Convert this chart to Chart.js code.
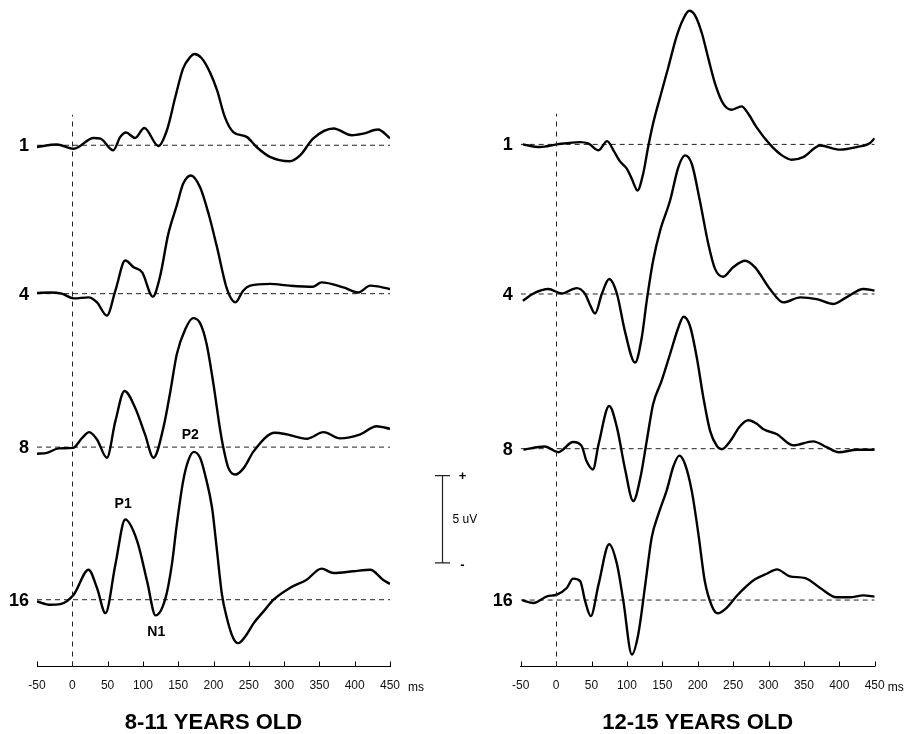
<!DOCTYPE html>
<html><head><meta charset="utf-8">
<script src="https://cdn.jsdelivr.net/npm/chart.js@4.4.0/dist/chart.umd.min.js"></script>
<style>
html,body{margin:0;padding:0;background:#fff;width:907px;height:734px;overflow:hidden}
#wrapL{position:absolute;left:0;top:0;width:486px;height:734px}
#wrapR{position:absolute;left:486px;top:0;width:421px;height:734px}
</style></head><body>
<div id="wrapL"><canvas id="cL"></canvas></div>
<div id="wrapR"><canvas id="cR"></canvas></div>
<script>
// ---- categories / labels ----
const ROWS = ['1', '4', '8', '16'];
const TITLES = ['8-11 YEARS OLD', '12-15 YEARS OLD'];
const X_MIN = -50, X_MAX = 450, X_STEP = 50;

// ---- 8-11 years old (time ms / amplitude uV) ----
const L1_ms = [-50,-22,2,30,40,58,68,76,89,102,122,134,146,157,167,173,183,195,205,216,228,247,261,280,308,323,341,370,396,412,433,450];
const L1_uv = [-0.1,0.04,-0.2,0.42,0.38,-0.29,0.48,0.73,0.42,0.99,-0.04,0.86,2.78,4.41,5.06,5.23,5.0,4.18,3.16,1.63,0.76,0.48,-0.1,-0.67,-0.92,-0.57,0.38,0.96,0.57,0.67,0.9,0.4];
const L4_ms = [-50,-31,-15,2,23,35,49,61,75,87,99,114,124,136,148,157,168,181,193,205,219,231,242,252,280,308,341,353,384,405,422,450];
const L4_uv = [0.04,0.07,0,-0.27,-0.21,-0.5,-1.26,0.17,1.9,1.51,1.22,-0.17,0.94,3.43,5.06,6.3,6.78,6.1,4.58,2.66,0.27,-0.5,0.17,0.46,0.56,0.46,0.4,0.65,0.36,0.07,0.46,0.27];
const L8_ms = [-50,-36,-19,1,14,24,35,49,61,74,89,103,115,129,139,148,160,171,181,190,200,209,214,221,231,243,257,287,304,332,356,379,408,431,450];
const L8_uv = [-0.38,-0.33,-0.07,-0.04,0.53,0.86,0.44,-0.61,1.49,3.22,2.26,0.73,-0.61,1.11,3.22,5.33,6.76,7.4,7.11,5.96,3.6,1.1,-0.04,-1.19,-1.57,-1.19,-0.23,0.82,0.73,0.48,0.86,0.5,0.73,1.2,1.05];
const L16_ms = [-50,-31,-17,2,23,35,47,61,75,92,106,118,132,141,148,157,164,172,181,188,198,205,212,219,228,235,245,257,271,285,308,332,353,370,398,422,440,450];
const L16_uv = [-0.1,-0.29,-0.25,0.29,1.72,0.67,-0.77,2.01,4.6,3.35,1.05,-0.9,0.09,2.01,4.31,6.8,7.95,8.48,8.14,7.18,5.26,2.78,0.29,-1.06,-2.21,-2.49,-2.11,-1.34,-0.67,0,0.67,1.15,1.78,1.53,1.63,1.72,1.15,0.9];

// ---- 12-15 years old ----
const R1_ms = [-47,-23,1,34,46,60,72,81,90,100,107,115,123,130,137,147,158.6,170,180,188,196,206,215,224.5,236,248,262,271.5,283,302,319,333,349,373,401,425,443,450];
const R1_uv = [0,-0.15,0,0.13,0.04,-0.34,0.19,-0.34,-0.96,-1.4,-1.98,-2.64,-1.68,-0.15,1.2,2.72,4.44,6.17,7.22,7.66,7.41,6.36,4.93,3.49,2.34,1.99,2.18,1.76,0.99,0,-0.63,-0.88,-0.73,-0.06,-0.3,-0.15,0.07,0.35];
const R4_ms = [-47,-32,-11,8,29,41,48,55,64.5,75,86,97,111.5,121,128,137,147,161,172.7,182,191.6,203,215,224.5,236,250,267,281,302,321,345,368,392,410,434,450];
const R4_uv = [-0.39,0.03,0.29,0.03,0.34,0,-0.63,-1.12,0,0.86,0,-2.1,-3.93,-2.49,-0.39,1.91,3.64,5.36,7.28,7.95,7.47,5.36,2.87,1.44,0.99,1.53,1.91,1.53,0.29,-0.48,-0.19,-0.29,-0.57,-0.19,0.29,0.2];
const R8_ms = [-46,-16,3,24,36,43,52,60,75,86,97,109,119,128,137,149,161,172.7,180,189,198.7,208,217.5,227,234,246,260,271.5,283,293,312,335,363,382,399,425,450];
const R8_uv = [-0.06,0.13,-0.2,0.38,0.16,-0.71,-1.19,0.25,2.45,1.21,-1.09,-3.0,-1.67,0.44,2.55,3.89,5.43,6.95,7.57,7.05,5.23,2.93,1.02,0.16,-0.03,0.44,1.3,1.63,1.44,1.11,0.83,0.19,0.42,0.09,-0.2,-0.06,-0.06];
const R16_ms = [-48,-32,-13,1,15,24,34,41,49,60,75,86,95,107,116,126,135,144.5,156,166,174,182,191.6,201,210,220,228,241,255,269,281,297.5,312,330,352,373,396,415,434,450];
const R16_uv = [0,-0.17,0.21,0.31,0.69,1.23,1.09,-0.06,-0.92,0.9,3.2,2.05,-0.06,-3.12,-1.97,0.9,3.58,4.93,6.26,7.7,8.28,7.8,6.26,3.78,1.09,-0.34,-0.76,-0.44,0.23,0.8,1.19,1.51,1.76,1.36,1.26,0.69,0.16,0.16,0.27,0.2];

// ---- component labels (8-11, row 16) ----
const PEAK_NAMES = ['P1', 'N1', 'P2'];
const PEAK_MS = [72, 119, 167];
const PEAK_UV = [5.48, -1.88, 9.44];

// vertical stacking of the rows (uV above the time axis)
const OFFSETS_L = [29.89, 21.38, 12.58, 3.83];
const OFFSETS_R = [29.94, 21.36, 12.49, 3.81];
const Y_MAX = 38.22;
const BAR_FROM = 5.94, BAR_UV = 5;

const FONT = 'Arial, "Liberation Sans", Helvetica, sans-serif';

function buildDatasets(traces, offsets) {
  const ds = [];
  offsets.forEach(o => ds.push({
    data: [{x: X_MIN, y: o}, {x: X_MAX, y: o}],
    borderColor: '#222', borderWidth: 1, borderDash: [5, 4],
    pointRadius: 0, tension: 0, order: 2
  }));
  traces.forEach((t, i) => ds.push({
    data: t[0].map((m, j) => ({x: m, y: offsets[i] + t[1][j]})),
    borderColor: '#000', borderWidth: 2.4, pointRadius: 0,
    cubicInterpolationMode: 'monotone', order: 1
  }));
  return ds;
}

const deco = {
  id: 'deco',
  afterDraw(chart, args, o) {
    const {ctx, chartArea: a, scales: {x, y}} = chart;
    ctx.save();
    ctx.strokeStyle = '#000'; ctx.lineWidth = 1;
    x.ticks.forEach(t => {
      const px = Math.round(x.getPixelForValue(t.value)) + 0.5;
      ctx.beginPath(); ctx.moveTo(px, a.bottom); ctx.lineTo(px, a.bottom - 5); ctx.stroke();
    });
    // zero-time dashed line
    ctx.setLineDash([5, 5]); ctx.strokeStyle = '#222';
    const zx = Math.round(x.getPixelForValue(0)) + 0.5;
    ctx.beginPath(); ctx.moveTo(zx, a.bottom); ctx.lineTo(zx, y.getPixelForValue(o.offsets[0] + 1.75)); ctx.stroke();
    ctx.setLineDash([]);
    // row labels
    ctx.fillStyle = '#000';
    ctx.font = 'bold 18px ' + FONT; ctx.textAlign = 'right'; ctx.textBaseline = 'middle';
    ROWS.forEach((r, i) => ctx.fillText(r, a.left - 8, y.getPixelForValue(o.offsets[i]) + 1));
    // ms
    ctx.font = '12px ' + FONT; ctx.textAlign = 'left';
    ctx.fillText('ms', a.right + o.msDx, a.bottom + 21);
    // title
    ctx.font = 'bold 22px ' + FONT; ctx.textAlign = 'center';
    ctx.fillText(o.title, (a.left + a.right) / 2, a.bottom + 56);
    if (o.extras) {
      ctx.font = 'bold 14px ' + FONT;
      PEAK_NAMES.forEach((n, i) => ctx.fillText(n, x.getPixelForValue(PEAK_MS[i]), y.getPixelForValue(o.offsets[3] + PEAK_UV[i])));
      const bx = Math.round(a.right + 52) + 0.5;
      const yb = y.getPixelForValue(BAR_FROM), yt = y.getPixelForValue(BAR_FROM + BAR_UV);
      ctx.lineWidth = 1.2;
      ctx.beginPath();
      ctx.moveTo(bx, yb); ctx.lineTo(bx, yt);
      ctx.moveTo(bx - 7.5, yt); ctx.lineTo(bx + 7.5, yt);
      ctx.moveTo(bx - 7.5, yb); ctx.lineTo(bx + 7.5, yb);
      ctx.stroke();
      ctx.font = 'bold 13px ' + FONT; ctx.textAlign = 'center';
      ctx.fillText('+', bx + 20, yt + 1);
      ctx.fillText('-', bx + 20, yb + 3);
      ctx.font = '12px ' + FONT; ctx.textAlign = 'left';
      ctx.fillText('5 uV', bx + 10, (yt + yb) / 2);
    }
    ctx.restore();
  }
};

function makeChart(id, traces, offsets, pad, decoOpts) {
  return new Chart(document.getElementById(id), {
    type: 'line',
    data: {datasets: buildDatasets(traces, offsets)},
    options: {
      responsive: true, maintainAspectRatio: false, animation: false,
      layout: {padding: pad},
      plugins: {legend: {display: false}, tooltip: {enabled: false}, title: {display: false},
        deco: Object.assign({offsets: offsets}, decoOpts)},
      scales: {
        x: {type: 'linear', min: X_MIN, max: X_MAX,
          ticks: {stepSize: X_STEP, color: '#111', padding: 12, maxRotation: 0, autoSkip: false,
            font: {size: 12, family: FONT}},
          grid: {display: false, drawTicks: false},
          border: {display: true, color: '#000', width: 1}},
        y: {type: 'linear', display: false, min: 0, max: Y_MAX}
      }
    },
    plugins: [deco]
  });
}

makeChart('cL', [[L1_ms, L1_uv], [L4_ms, L4_uv], [L8_ms, L8_uv], [L16_ms, L16_uv]], OFFSETS_L,
  {left: 37, right: 96, top: 0, bottom: 29.1}, {title: TITLES[0], msDx: 18, extras: true});
makeChart('cR', [[R1_ms, R1_uv], [R4_ms, R4_uv], [R8_ms, R8_uv], [R16_ms, R16_uv]], OFFSETS_R,
  {left: 34.7, right: 32.3, top: 0, bottom: 29.1}, {title: TITLES[1], msDx: 13, extras: false});
</script>
</body></html>
